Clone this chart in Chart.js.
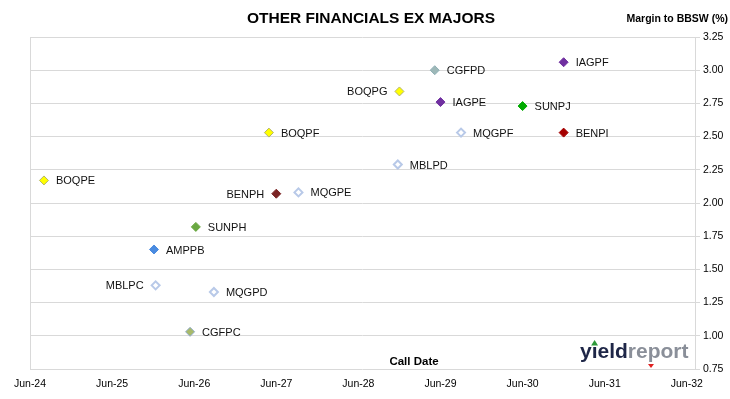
<!DOCTYPE html>
<html>
<head>
<meta charset="utf-8">
<script src="https://cdn.jsdelivr.net/npm/chart.js@4.4.0/dist/chart.umd.min.js"></script>
<style>
  html, body { margin: 0; padding: 0; background: #fff; }
  #wrap { width: 730px; height: 399px; position: relative; }
</style>
</head>
<body>
<div id="wrap"><canvas id="myChart" width="730" height="399"></canvas></div>
<script>
// issuers, call date (decimal year) and margin to BBSW (%)
const securities = ['BOQPE','BENPH','MQGPE','SUNPH','AMPPB','MBLPC','MQGPD','CGFPC','CGFPD','IAGPF','BOQPG','IAGPE','SUNPJ','BOQPF','MQGPF','BENPI','MBLPD']
const callDates  = [2024.59,2027.42,2027.69,2026.44,2025.93,2025.95,2026.66,2026.37,2029.35,2030.92,2028.92,2029.42,2030.42,2027.33,2029.67,2030.92,2028.90]
const margins    = [2.17,2.07,2.08,1.82,1.65,1.38,1.33,1.03,3.00,3.06,2.84,2.76,2.73,2.53,2.53,2.53,2.29]
const tickDates  = [2024.42,2025.42,2026.42,2027.42,2028.42,2029.42,2030.42,2031.42,2032.42]
const tickLabels = ['Jun-24','Jun-25','Jun-26','Jun-27','Jun-28','Jun-29','Jun-30','Jun-31','Jun-32']
const yTicks     = [0.75,1.00,1.25,1.50,1.75,2.00,2.25,2.50,2.75,3.00,3.25]

// marker look per issuer
const markerFill = {
  BOQPE:'#FFFF00', BOQPF:'#FFFF00', BOQPG:'#FFFF00',
  BENPH:'#7B2424', BENPI:'#A50000',
  MQGPE:'#ffffff', MQGPD:'#ffffff', MQGPF:'#ffffff', MBLPC:'#ffffff', MBLPD:'#ffffff',
  SUNPH:'#6AA842', SUNPJ:'#00AA00',
  AMPPB:'#4A8BE0', CGFPC:'#A8BA6A', CGFPD:'#9DB8B8',
  IAGPE:'#7030A0', IAGPF:'#7030A0'
}
const markerLine = {
  BOQPE:'#B3B36A', BOQPF:'#B3B36A', BOQPG:'#B3B36A',
  MQGPE:'#B8C9E8', MQGPD:'#B8C9E8', MQGPF:'#B8C9E8', MBLPC:'#B8C9E8', MBLPD:'#B8C9E8',
  CGFPC:'#8FAAC8', CGFPD:'#8FAFB5'
}
const leftLabels = ['BENPH','MBLPC','BOQPG']

const datasets = securities.map(function(name, i){
  const hollow = markerFill[name] === '#ffffff'
  return {
    label: name,
    data: [{x: callDates[i], y: margins[i]}],
    pointStyle: 'rectRot',
    pointRadius: hollow ? 4 : 4.5,
    borderWidth: hollow ? 2 : 1,
    backgroundColor: markerFill[name],
    borderColor: markerLine[name] || markerFill[name]
  }
})

const decor = {
  id: 'decor',
  beforeDatasetsDraw(chart) {
    const c = chart.ctx, a = chart.chartArea
    c.save()
    c.strokeStyle = '#d9d9d9'
    c.lineWidth = 1
    c.beginPath()
    c.moveTo(Math.round(a.left) + 0.5, a.top)
    c.lineTo(Math.round(a.left) + 0.5, a.bottom)
    c.stroke()
    c.restore()
  },
  afterDatasetsDraw(chart) {
    const c = chart.ctx
    c.save()
    c.font = '11px "Liberation Sans", Arial, sans-serif'
    c.fillStyle = '#111'
    c.textBaseline = 'middle'
    chart.data.datasets.forEach(function(ds, i){
      const p = chart.getDatasetMeta(i).data[0]
      if (leftLabels.includes(ds.label)) {
        c.textAlign = 'right'
        c.fillText(ds.label, p.x - 12, p.y + 1)
      } else {
        c.textAlign = 'left'
        c.fillText(ds.label, p.x + 12, p.y + 1)
      }
    })
    // title & axis titles
    c.fillStyle = '#000'
    c.textAlign = 'center'
    c.font = 'bold 15.5px "Liberation Sans", Arial, sans-serif'
    c.fillText('OTHER FINANCIALS EX MAJORS', 371, 19)
    c.font = 'bold 10.5px "Liberation Sans", Arial, sans-serif'
    c.textAlign = 'right'
    c.fillText('Margin to BBSW (%)', 728, 19)
    c.textAlign = 'center'
    c.font = 'bold 11.5px "Liberation Sans", Arial, sans-serif'
    c.fillText('Call Date', 414, 362)
    // logo
    c.textAlign = 'left'
    c.textBaseline = 'alphabetic'
    c.font = 'bold 21px "Liberation Sans", Arial, sans-serif'
    let x = 580
    c.fillStyle = '#1E2647'
    c.fillText('y', x, 358); x += c.measureText('y').width
    const iw = c.measureText('\u0131').width
    c.fillText('\u0131', x, 358)
    const ix = x + iw / 2
    x += iw
    c.fillText('eld', x, 358); x += c.measureText('eld').width
    c.fillStyle = '#8A8F99'
    c.fillText('report', x, 358)
    c.fillStyle = '#ffffff'
    c.fillRect(ix - 3, 340, 6, 5)
    c.fillStyle = '#2E9A3A'
    c.beginPath(); c.moveTo(ix, 340); c.lineTo(ix + 3.5, 345.5); c.lineTo(ix - 3.5, 345.5); c.fill()
    c.fillStyle = '#E02020'
    c.beginPath(); c.moveTo(648, 364); c.lineTo(654, 364); c.lineTo(651, 368); c.fill()
    c.restore()
  }
}

new Chart(document.getElementById('myChart'), {
  type: 'scatter',
  data: { datasets: datasets },
  options: {
    responsive: false,
    animation: false,
    layout: { padding: { left: 30, top: 37, right: 0, bottom: 0 } },
    plugins: { legend: { display: false }, tooltip: { enabled: false } },
    scales: {
      x: {
        type: 'linear',
        min: tickDates[0],
        max: tickDates[0] + 8.1,
        afterBuildTicks: function(s){ s.ticks = tickDates.map(v => ({value: v})) },
        afterFit: function(s){ s.height = 30 },
        grid: { display: false, drawTicks: false },
        border: { display: false },
        ticks: {
          padding: 9,
          maxRotation: 0,
          autoSkip: false,
          color: '#000',
          font: { family: '"Liberation Sans", Arial', size: 10.5 },
          callback: function(v){ const k = tickDates.findIndex(t => Math.abs(t - v) < 0.01); return k >= 0 ? tickLabels[k] : '' }
        }
      },
      y: {
        position: 'right',
        min: yTicks[0],
        max: yTicks[yTicks.length - 1],
        afterBuildTicks: function(s){ s.ticks = yTicks.map(v => ({value: v})) },
        afterFit: function(s){ s.width = 35 },
        grid: { color: '#d9d9d9', tickLength: 5 },
        border: { color: '#d9d9d9' },
        ticks: {
          padding: 3,
          color: '#000',
          font: { family: '"Liberation Sans", Arial', size: 10.5 },
          callback: function(v){ return v.toFixed(2) }
        }
      }
    }
  },
  plugins: [decor]
})
</script>
</body>
</html>
